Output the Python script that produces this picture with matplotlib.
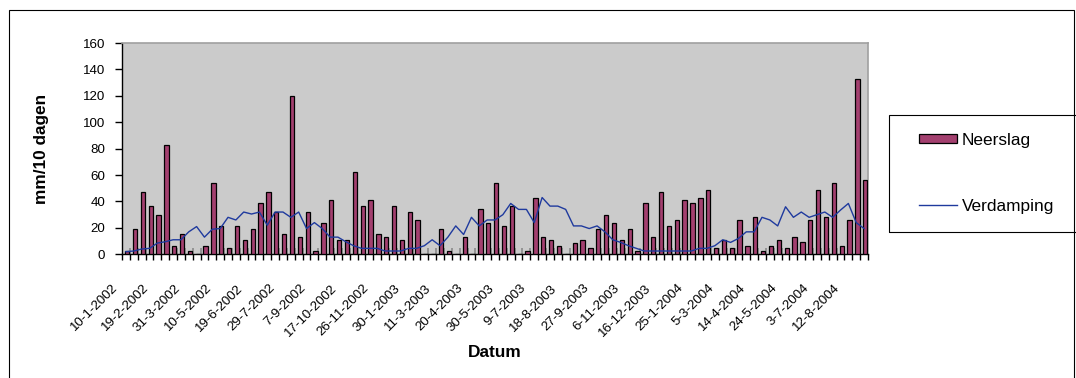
import numpy as np
import matplotlib
matplotlib.use("Agg")
import matplotlib.pyplot as plt
import matplotlib.transforms as mtransforms
from matplotlib.patches import Rectangle

plt.rcParams['font.family'] = ['Liberation Sans', 'DejaVu Sans']

# ---- data -------------------------------------------------------------
neerslag = [2.5, 19, 47, 36.5, 30, 83, 6.5, 15, 2.5, 0,
            6.5, 54, 21.5, 4.5, 21.5, 11, 19.5, 38.5, 47, 32,
            15, 120, 13, 32, 2.5, 24, 41, 11, 11, 62,
            36.5, 41, 15, 13, 36.5, 11, 32, 26, 0, 0,
            19.5, 2.5, 0, 13, 0, 34, 24, 54, 21.5, 36.5,
            0, 2.5, 43, 13, 11, 6.5, 0, 8.5, 11, 4.5,
            19.5, 30, 24, 11, 19.5, 2.5, 38.5, 13, 47, 21.5,
            26, 41, 38.5, 43, 49, 4.5, 11, 4.5, 26, 6.5,
            28, 2.5, 6.5, 11, 4.5, 13, 9, 26, 49, 28,
            54, 6.5, 26, 133, 56]

verdamping = [2, 2.5, 4, 4.5, 8.5, 9.5, 11, 11, 17, 21,
              13, 19, 19.5, 28, 26, 32, 30.5, 32, 22, 32,
              32, 28, 32, 19.5, 24, 19.5, 13, 13, 9.5, 6.5,
              4.5, 4.5, 4.5, 2.5, 2.5, 2.5, 4.5, 4.5, 6.5, 11,
              6.5, 13, 21.5, 15, 28, 21.5, 26, 26, 30, 38.5,
              34, 34, 24, 43, 36.5, 36.5, 34, 21.5, 21.5, 19.5,
              21.5, 17, 11, 9, 6.5, 4.5, 2.5, 2.5, 2.5, 2.5,
              2.5, 2.5, 2.5, 4.5, 4.5, 6.5, 11, 9, 12, 17,
              17, 28, 26, 21.5, 36, 28, 32, 28, 30, 32,
              28, 33.5, 38.5, 24, 19.5]

tick_labels = ['10-1-2002', '19-2-2002', '31-3-2002', '10-5-2002', '19-6-2002',
               '29-7-2002', '7-9-2002', '17-10-2002', '26-11-2002', '30-1-2003',
               '11-3-2003', '20-4-2003', '30-5-2003', '9-7-2003', '18-8-2003',
               '27-9-2003', '6-11-2003', '16-12-2003', '25-1-2004', '5-3-2004',
               '14-4-2004', '24-5-2004', '3-7-2004', '12-8-2004']
label_step = 4
y_ticks = [0, 20, 40, 60, 80, 100, 120, 140, 160]

# ---- figure -----------------------------------------------------------
W, H = 1076, 378
fig = plt.figure(figsize=(W / 100, H / 100), dpi=100)
fig.patch.set_facecolor('white')

# outer chart-area border
fig.add_artist(Rectangle((9 / W, -0.02), (1074 - 9) / W, 1 - 10 / H + 0.02,
                         transform=fig.transFigure, fill=False,
                         edgecolor='black', linewidth=0.8))

ax = fig.add_axes([122 / W, 1 - 254.3 / H, (868 - 122) / W, (254.3 - 43) / H])
ax.set_facecolor('#CBCBCB')

n = len(neerslag)
x = np.arange(n)

bars = ax.bar(x + 0.15, neerslag, width=0.55, color='#A3406F', edgecolor='black',
              linewidth=0.9, zorder=3, label='Neerslag')
line, = ax.plot(x, verdamping, color='#1F3A9E', linewidth=1.0, zorder=4,
                label='Verdamping')

ax.set_xlim(-0.5, n - 0.5)
ax.set_ylim(0, 160)

# category boundary ticks
bounds = np.arange(-0.5, n, 1.0)
ax.set_xticks(bounds)
ax.set_xticklabels([])
ax.tick_params(axis='x', which='major', direction='out', length=4,
               width=1, color='black')
ax.vlines(bounds[1:-1], 0, 4.5, colors='#8A8A8A', linewidth=1.2, zorder=2)

# labels at every fourth category
ax.set_xticks(x[::label_step][:len(tick_labels)], minor=True)
ax.set_xticklabels(tick_labels, minor=True, rotation=45, ha='right',
                   va='top', fontsize=9.6)
ax.tick_params(axis='x', which='minor', length=0, pad=20)
shift = mtransforms.ScaledTranslation(-6 / 100, 0, fig.dpi_scale_trans)
for lbl in ax.get_xticklabels(minor=True):
    lbl.set_transform(lbl.get_transform() + shift)

ax.set_yticks(y_ticks)
ax.set_yticklabels([str(v) for v in y_ticks], fontsize=9.6)
ax.tick_params(axis='y', direction='out', length=5, width=1, pad=7)

for s in ['left', 'bottom']:
    ax.spines[s].set_color('black')
    ax.spines[s].set_linewidth(1.0)
for s in ['top', 'right']:
    ax.spines[s].set_color('#A0A0A0')
    ax.spines[s].set_linewidth(1.2)

ax.set_xlabel('Datum', fontsize=12.4, fontweight='bold')
ax.xaxis.set_label_coords(0.5, -0.43)
ax.set_ylabel('mm/10 dagen', fontsize=12.4, fontweight='bold')
ax.yaxis.set_label_coords(-0.098, 0.5)

# legend frame + legend entries
fig.add_artist(Rectangle((889 / W, 1 - 232 / H), (1090 - 889) / W, (232 - 115) / H,
                         transform=fig.transFigure, fill=False,
                         edgecolor='black', linewidth=0.8))
leg = fig.legend(handles=[bars, line], labels=['Neerslag', 'Verdamping'],
                 loc='upper left', bbox_to_anchor=(919 / W, 1 - 133 / H),
                 frameon=False, fontsize=12.4, borderpad=0, borderaxespad=0,
                 labelspacing=2.95, handlelength=2.2, handleheight=0.44,
                 handletextpad=0.3)

fig.savefig('out.png', dpi=100)
